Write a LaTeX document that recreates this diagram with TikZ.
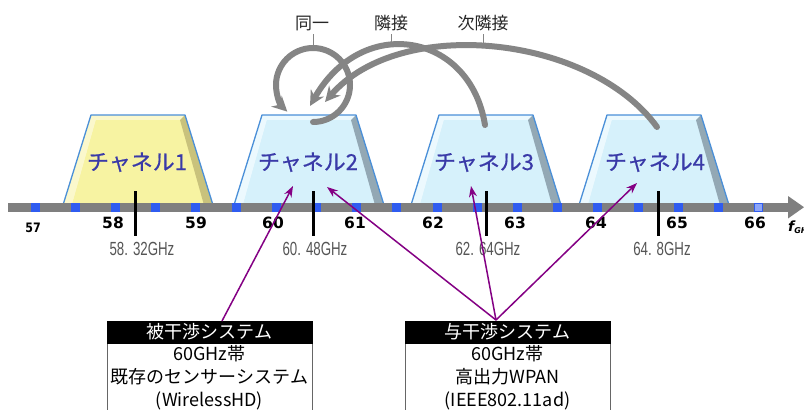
\documentclass[tikz,border=0pt]{standalone}
\usepackage{fontspec}
\usepackage{graphicx}
\setmainfont{Liberation Sans}
\newfontfamily\jp{Noto Sans CJK JP}
\newfontfamily\jpb{Noto Sans CJK JP}[FakeBold=0.6]
\newfontfamily\dv{DejaVu Sans}
\usetikzlibrary{arrows.meta}
\definecolor{axisgray}{HTML}{7F7F7F}
\definecolor{sqblue}{HTML}{2F5CF0}
\definecolor{yfill}{HTML}{F7F3A2}
\definecolor{ybevel}{HTML}{C9C27C}
\definecolor{ylight}{HTML}{FBF8CC}
\definecolor{bfill}{HTML}{D6F1FB}
\definecolor{bbevel}{HTML}{93A8B4}
\definecolor{blight}{HTML}{ECF9FE}
\definecolor{edgeblue}{HTML}{4A8FD8}
\definecolor{chtext}{HTML}{3A3AA8}
\definecolor{arcgray}{HTML}{858585}
\definecolor{purp}{HTML}{840084}
\definecolor{freqgray}{HTML}{555555}
\tikzset{
  chlabel/.style={font=\jpb\fontsize{22}{22}\selectfont, text=chtext, anchor=base, inner sep=0pt},
  ticklab/.style={font=\dv\bfseries\fontsize{15.5}{15.5}\selectfont, anchor=base, inner sep=0pt},
  freqlab/.style={font=\fontsize{19}{19}\selectfont, text=freqgray, anchor=base, inner sep=0pt},
  marker/.style={line width=3pt, black},
  arcline/.style={line width=6pt, arcgray, line cap=round, -{Stealth[length=15pt,width=15pt,inset=5pt]}},
  arclab/.style={font=\jp\fontsize{17}{17}\selectfont, anchor=base, inner sep=0pt, text=black!85},
  ticklink/.style={line width=1pt, arcgray},
  parrow/.style={line width=1.5pt, purp, -{Stealth[length=11pt,width=8pt]}},
  headbox/.style={fill=black, draw=black, minimum width=205pt, minimum height=22pt, inner sep=0pt, text=white, font=\jp\fontsize{18}{18}\selectfont},
  bodybox/.style={draw=black!60, line width=1pt, fill=white, minimum width=205pt, minimum height=80pt, inner sep=0pt, anchor=north},
  bodytext/.style={font=\jp\fontsize{18}{18}\selectfont, anchor=base, inner sep=0pt}
}
\begin{document}
\begin{tikzpicture}[x=1pt,y=-1pt]
\useasboundingbox (0,0) rectangle (804,410);
\fill[white] (0,0) rectangle (804,410);

% trapezoids
\foreach \cx/\fc/\bc/\lc in {138/yfill/ybevel/ylight, 309/bfill/bbevel/blight, 486/bfill/bbevel/blight, 654/bfill/bbevel/blight}{
  \fill[\fc] (\cx-75,205) -- (\cx-47,115) -- (\cx+47,115) -- (\cx+75,205) -- cycle;
  \fill[\lc] (\cx-75,205) -- (\cx-47,115) -- (\cx+47,115) -- (\cx+42,120) -- (\cx-42,120) -- (\cx-66,205) -- cycle;
  \fill[\fc] (\cx-66,205) -- (\cx-42,120) -- (\cx+42,120) -- (\cx+66,205) -- cycle;
  \fill[\bc] (\cx+47,115) -- (\cx+75,205) -- (\cx+66,205) -- (\cx+42,120) -- cycle;
  \draw[edgeblue, line width=1.3pt, line join=round] (\cx-75,205) -- (\cx-47,115) -- (\cx+47,115) -- (\cx+75,205);
}

% axis
\fill[axisgray] (8,203) rectangle (790,211.5);
\fill[axisgray] (788,196) -- (804,207.2) -- (788,218.5) -- cycle;
\foreach \i in {0,...,17}{
  \fill[sqblue] ({35+40.2*\i-4.5},202.5) rectangle +(9,9.5);
}
\fill[sqblue!55] ({35+40.2*18-4.5},202.5) rectangle +(9,9.5);
\draw[sqblue, line width=1pt] ({35+40.2*18-4},203) rectangle +(8,8.5);

% center markers
\draw[marker] (135,191) -- (135,236);
\draw[marker] (313,191) -- (313,236);
\draw[marker] (486,191) -- (486,236);
\draw[marker] (658,191) -- (658,236);

% tick labels
\node[ticklab, font=\dv\bfseries\fontsize{13}{13}\selectfont] (t57) at (33,232) {\scalebox{0.85}[1]{57}};
\node[ticklab] (t58) at (113,228.5) {58};
\node[ticklab] (t59) at (196,228.5) {59};
\node[ticklab] (t60) at (273,228.5) {60};
\node[ticklab] (t61) at (355,228.5) {61};
\node[ticklab] (t62) at (433,228.5) {62};
\node[ticklab] (t63) at (515,228.5) {63};
\node[ticklab] (t64) at (596,228.5) {64};
\node[ticklab] (t65) at (677,228.5) {65};
\node[ticklab] (t66) at (755,228.5) {66};
\node[anchor=base west, inner sep=0pt, font=\dv\bfseries\itshape\fontsize{14}{14}\selectfont] (fghz) at (788,231) {f\textsubscript{\fontsize{8}{8}\selectfont GHz}};

% frequency labels
\node[freqlab] (fq1) at (142,255) {\scalebox{0.7}[1]{58. 32GHz}};
\node[freqlab] (fq2) at (315,255) {\scalebox{0.7}[1]{60. 48GHz}};
\node[freqlab] (fq3) at (488,255) {\scalebox{0.7}[1]{62. 64GHz}};
\node[freqlab] (fq4) at (662,255) {\scalebox{0.7}[1]{64. 8GHz}};

% channel labels
\node[chlabel] (ch1) at (137,170) {チャネル1};
\node[chlabel] (ch2) at (308,170) {チャネル2};
\node[chlabel] (ch3) at (484,170) {チャネル3};
\node[chlabel] (ch4) at (655,170) {チャネル4};

% gray arcs
\node[arclab] (l1) at (312,29.5) {同一};
\node[arclab] (l2) at (391,29.5) {隣接};
\node[arclab] (l3) at (483,29.5) {次隣接};
\coordinate (a1top) at (313,48);
\coordinate (a2top) at (391,47);
\coordinate (a3top) at (483,46);
\draw[ticklink] (l1.south) ++(1,3) -- (a1top);
\draw[ticklink] (l2.south) ++(0,3) -- (a2top);
\draw[ticklink] (l3.south) ++(0,3) -- (a3top);
\coordinate (s1) at (313,122);
\coordinate (s2) at (485,125);
\coordinate (e2) at (310,106);
\coordinate (s3) at (657,127);
\coordinate (e3) at (325,102);
\draw[arcline] (s3) .. controls (590,35) and (400,15) .. (e3);
\draw[arcline] (s2) .. controls (470,32) and (362,14) .. (e2);
\draw[arcline] (s1) arc[start angle=90, end angle=-226, radius=37];

% boxes
\node[bodybox] (b1body) at (209.5,343) {};
\node[headbox] (b1head) at (209.5,332) {被干渉システム};
\node[bodytext] (b1l1) at (209.5,360) {60GHz帯};
\node[bodytext] (b1l2) at (209.5,383) {既存のセンサーシステム};
\node[bodytext] (b1l3) at (209.5,406) {(WirelessHD)};

\node[bodybox] (b2body) at (507.5,343) {};
\node[headbox] (b2head) at (507.5,332) {与干渉システム};
\node[bodytext] (b2l1) at (507.5,360) {60GHz帯};
\node[bodytext] (b2l2) at (507.5,383) {高出力WPAN};
\node[bodytext] (b2l3) at (507.5,406) {(IEEE802.11ad)};

% purple arrows
\coordinate (p1) at (222,321);
\coordinate (p2) at (496,320);
\coordinate (c2a) at (293,186);
\coordinate (c2b) at (327,187);
\coordinate (c3) at (471,186);
\coordinate (c4) at (637,183);
\draw[parrow] (p1) -- (c2a);
\draw[parrow] (p2) -- (c2b);
\draw[parrow] (p2) -- (c3);
\draw[parrow] (p2) -- (c4);
\end{tikzpicture}
\end{document}
